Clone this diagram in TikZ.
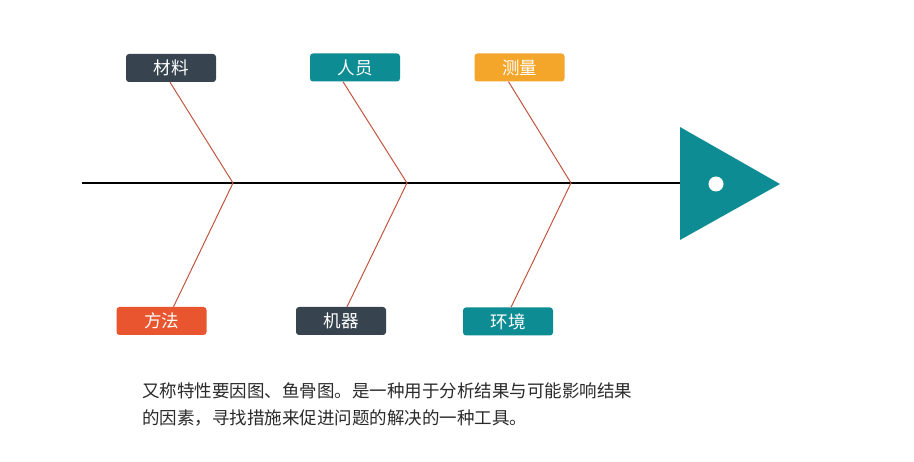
\documentclass[tikz,border=0pt]{standalone}
\usepackage{fontspec}
\setmainfont{Noto Sans CJK SC}
\definecolor{darkbox}{HTML}{37444F}
\definecolor{tealbox}{HTML}{0E8C94}
\definecolor{orangebox}{HTML}{F4A62A}
\definecolor{redbox}{HTML}{E8552E}
\definecolor{bone}{HTML}{C2553F}
\definecolor{txt}{HTML}{2A2A2A}
\tikzset{
  cat/.style={rounded corners=3pt, minimum width=90pt, minimum height=28pt, inner sep=0pt, text=white, font=\fontsize{17.5}{20}\selectfont},
  bonel/.style={draw=bone, line width=1pt},
  desctext/.style={anchor=west, inner sep=0pt, text=txt, font=\fontsize{17.5}{20}\selectfont},
}
\begin{document}
\begin{tikzpicture}[x=1pt,y=-1pt]
\useasboundingbox (0,0) rectangle (914,462);
\fill[white] (0,0) rectangle (914,462);
% spine
\coordinate (tail) at (82,183);
\coordinate (j1) at (233,183);
\coordinate (j2) at (407,183);
\coordinate (j3) at (571,183);
\coordinate (head) at (680,183);
\draw[line width=1.1pt, black] (tail) -- (head);
% head
\fill[tealbox] (680,127) -- (780,184) -- (680,240) -- cycle;
\fill[white] (716,184) circle (7.5);
% category boxes
\node[cat, fill=darkbox] (cl) at (171,68) {材料};
\node[cat, fill=tealbox] (pe) at (355,67.5) {人员};
\node[cat, fill=orangebox] (me) at (519.5,67.5) {测量};
\node[cat, fill=redbox] (mt) at (161.5,321) {方法};
\node[cat, fill=darkbox] (ma) at (341,321) {机器};
\node[cat, fill=tealbox] (en) at (508,321.5) {环境};
% bones
\draw[bonel] ([xshift=-1pt]cl.south) -- (j1) -- ([xshift=12pt]mt.north);
\draw[bonel] ([xshift=-12pt]pe.south) -- (j2) -- ([xshift=6pt]ma.north);
\draw[bonel] ([xshift=-11pt]me.south) -- (j3) -- ([xshift=3pt]en.north);
% description
\node[desctext] (desc1) at (142,391)
  {又称特性要因图、鱼骨图。是一种用于分析结果与可能影响结果};
\node[desctext] (desc2) at (142,418)
  {的因素，寻找措施来促进问题的解决的一种工具。};
\end{tikzpicture}
\end{document}
